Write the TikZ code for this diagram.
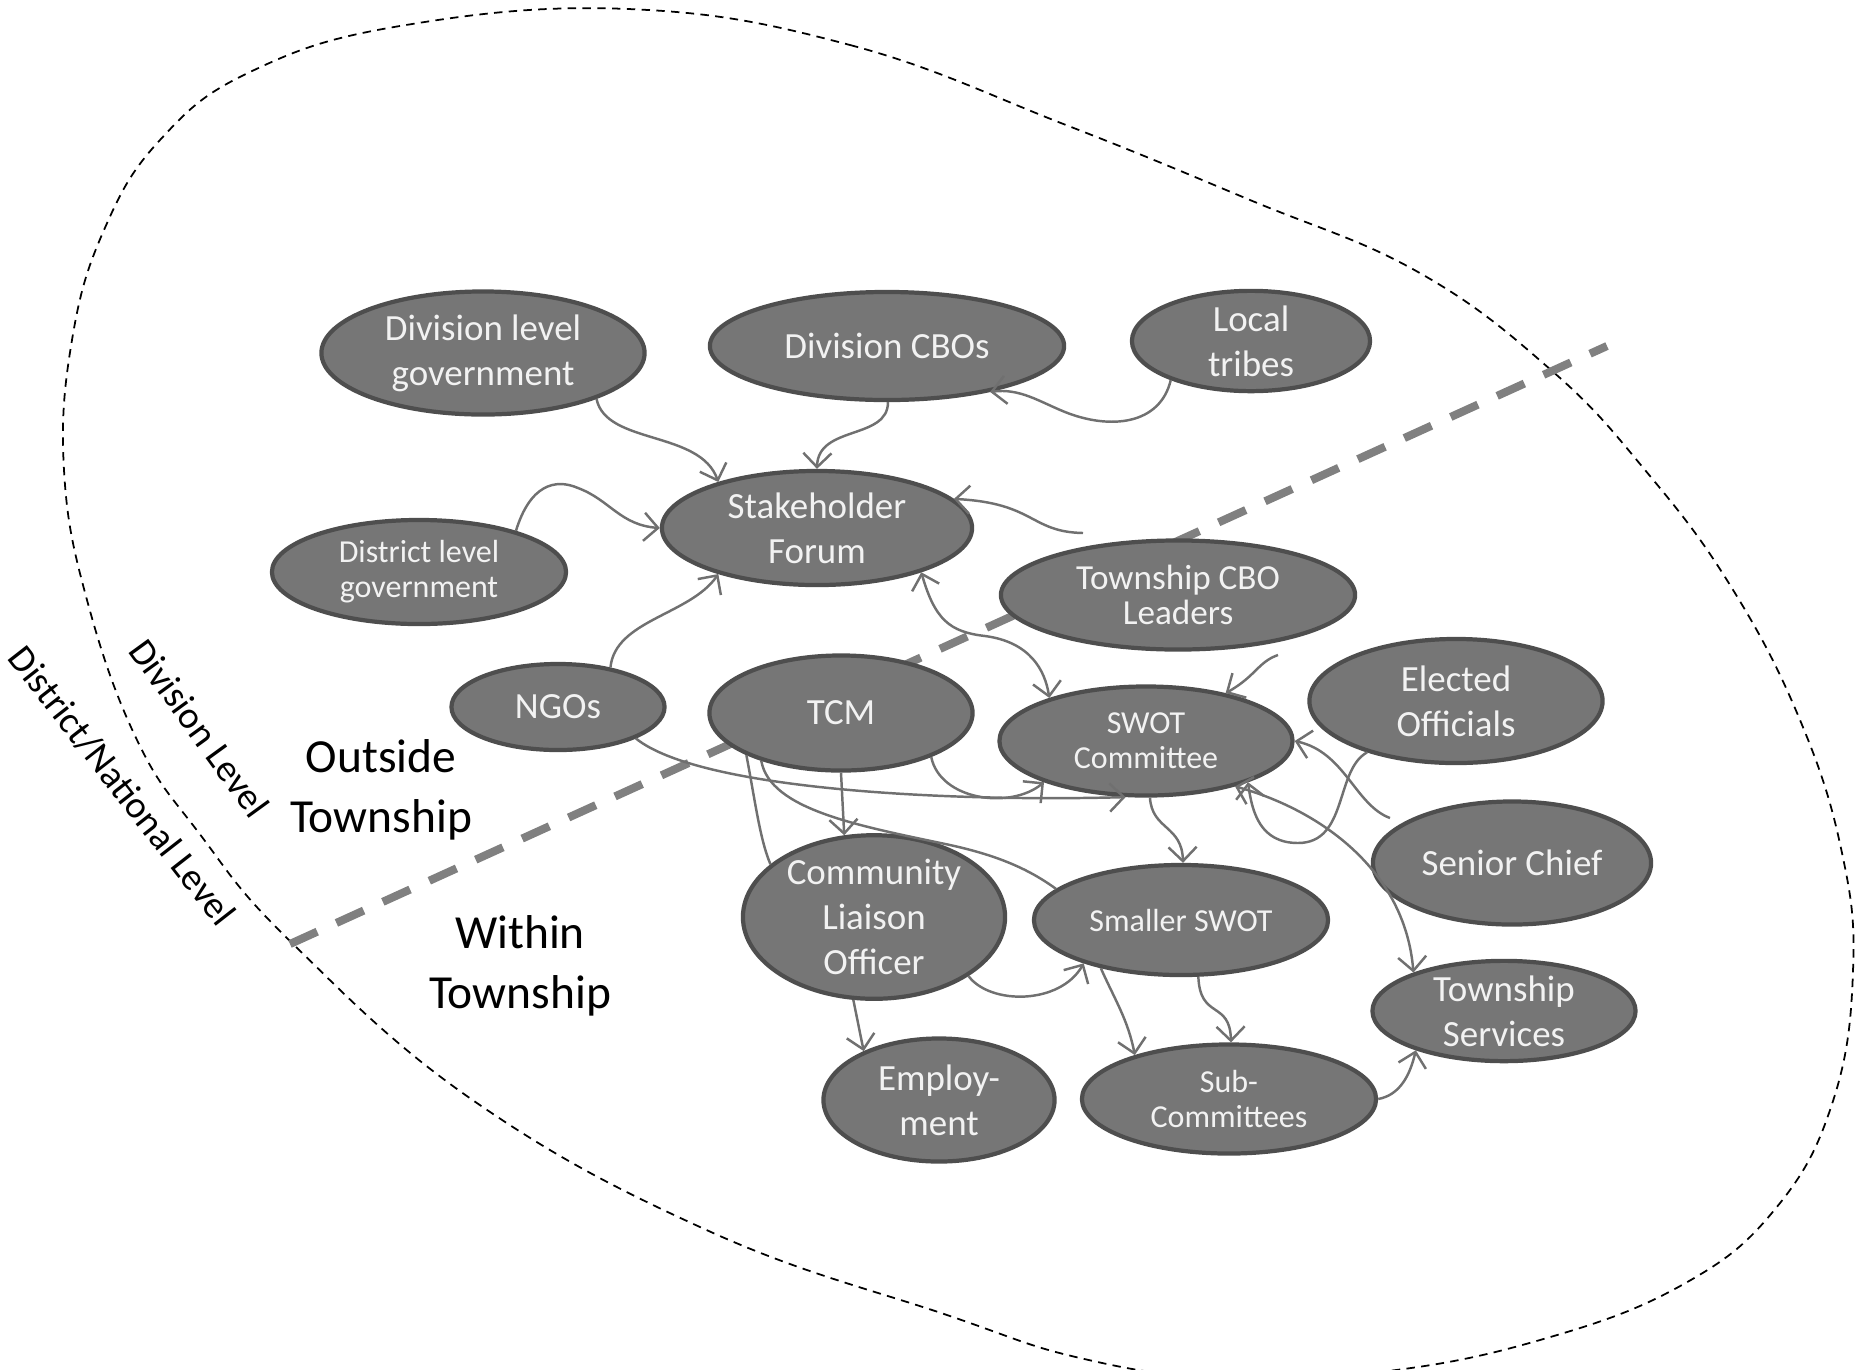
\documentclass[tikz,border=0pt]{standalone}
\usepackage{fontspec}
\setmainfont{Carlito}
\usetikzlibrary{arrows.meta}
\usetikzlibrary{shapes.geometric}
\usetikzlibrary{positioning}
\definecolor{mgray}{RGB}{118, 118, 118}
\definecolor{mdark}{RGB}{78, 78, 78}
\definecolor{mlink}{RGB}{112, 112, 112}
\definecolor{mcut}{RGB}{128, 128, 128}
\tikzset{blob/.style = {ellipse, draw=mdark, line width=1.2pt, fill=mgray, text=white!95!black,
                        inner sep=0, align=center, font=\fontsize{10.5}{12.8}\selectfont}}
\tikzset{fine/.style = {font=\fontsize{9.1}{10}\selectfont}}
\tikzset{wire/.style = {draw=mlink, line width=0.7pt}}
\tikzset{link/.style = {wire, -{Straight Barb[length=4pt, width=8pt]}}}
\tikzset{both/.style = {wire, {Straight Barb[length=4pt, width=8pt]}-{Straight Barb[length=4pt, width=8pt]}}}
\tikzset{zone/.style = {align=center, font=\fontsize{13.5}{17}\selectfont}}
\tikzset{level/.style = {font=\fontsize{10.8}{13}\selectfont}}

\begin{document}
\begin{tikzpicture}[x=0.01cm, y=-0.01cm]
    \useasboundingbox (0, 0) rectangle (1857, 1369);

    \draw [dash pattern=on 2.4pt off 1.8pt, line width=0.5pt] plot [smooth cycle, tension=0.7] coordinates {(628, 9) (850, 45) (1066, 125) (1250, 200) (1418, 272) (1551, 370) (1645, 470) (1730, 585) (1800, 720) (1842, 853) (1853, 971) (1833, 1101) (1776, 1208) (1682, 1285) (1540, 1340) (1380, 1372) (1220, 1378) (1080, 1358) (947, 1315) (711, 1232) (474, 1101) (290, 941) (199, 833) (137, 740) (87, 600) (64, 470) (72, 340) (104, 230) (160, 140) (250, 72) (400, 26)};

    \coordinate (cutA) at (290, 944);
    \coordinate (cutB) at (1607, 346);
    \draw [mcut, line width=2.3pt, dash pattern=on 8.5pt off 6pt] (cutA) -- (cutB);

    \node [blob, minimum width=3.23cm, minimum height=1.23cm] (divgov) at (483, 353) {Division level\\government};
    \node [blob, minimum width=3.54cm, minimum height=1.08cm] (divcbo) at (887, 346) {Division CBOs};
    \node [blob, minimum width=2.38cm, minimum height=0.97cm] (tribes) at (1251, 341) {Local\\tribes};
    \node [blob, minimum width=3.10cm, minimum height=1.14cm] (forum) at (817, 528) {Stakeholder\\Forum};
    \node [blob, fine, minimum width=2.94cm, minimum height=1.04cm] (distgov) at (419, 572) {District level\\government};
    \node [blob, font=\fontsize{10}{10}\selectfont, minimum width=3.54cm, minimum height=1.09cm] (tcbo) at (1178, 595) {Township CBO\\Leaders};
    \node [blob, minimum width=2.13cm, minimum height=0.86cm] (ngo) at (558, 707) {NGOs};
    \node [blob, minimum width=2.63cm, minimum height=1.15cm] (tcm) at (841, 713) {TCM};
    \node [blob, fine, minimum width=2.93cm, minimum height=1.09cm] (swot) at (1146, 741) {SWOT\\Committee};
    \node [blob, minimum width=2.93cm, minimum height=1.24cm] (elected) at (1456, 701) {Elected\\Officials};
    \node [blob, minimum width=2.78cm, minimum height=1.23cm] (chief) at (1512, 863) {Senior Chief};
    \node [blob, minimum width=2.62cm, minimum height=1.50cm] (clo) at (874, 917) {Community\\Liaison\\Officer};
    \node [blob, fine, minimum width=2.94cm, minimum height=1.10cm] (small) at (1181, 920) {Smaller SWOT};
    \node [blob, minimum width=2.63cm, minimum height=0.89cm] (services) at (1504, 1011) {Township\\Services};
    \node [blob, minimum width=2.31cm, minimum height=1.23cm] (employ) at (939, 1100) {Employ-\\ment};
    \node [blob, fine, minimum width=2.94cm, minimum height=1.09cm] (subc) at (1229, 1099) {Sub-\\Committees};

    % outside the township
    \draw [link] (divgov.-22) .. controls (606, 445) and (700, 430) .. (forum.155);
    \draw [link] (divcbo.-89) .. controls (888, 440) and (818, 425) .. (forum.90);
    \draw [link] (tribes.206) .. controls (1160, 425) and (1110, 430) .. (1065, 412) .. controls (1040, 402) and (1020, 388) .. (divcbo.-24);
    \draw [link] (distgov.23) .. controls (530, 485) and (555, 478) .. (578, 488) .. controls (610, 500) and (620, 525) .. (forum.180);
    \draw [link] (ngo.37) .. controls (615, 620) and (690, 615) .. (forum.205);
    \coordinate (loose1) at (1083, 533);
    \draw [link] (loose1) .. controls (1030, 532) and (1035, 503) .. (forum.12);
    \draw [both] (forum.-23) .. controls (935, 620) and (950, 632) .. (985, 636) .. controls (1030, 642) and (1045, 670) .. (swot.156);

    % within the township
    \coordinate (loose2) at (1278, 655);
    \draw [link] (loose2) .. controls (1258, 662) and (1256, 676) .. (swot.31);
    \coordinate (loose3) at (1390, 818);
    \draw [link] (loose3) .. controls (1355, 805) and (1345, 752) .. (swot.0);
    \draw [link] (elected.210) .. controls (1335, 770) and (1348, 843) .. (1298, 843) .. controls (1260, 843) and (1252, 812) .. (swot.-22);
    \draw [both] (swot.-27) .. controls (1320, 810) and (1405, 870) .. (services.157);
    \draw [link] (tcm.-26) .. controls (940, 800) and (1010, 810) .. (swot.202);
    \draw [link] (ngo.-22) .. controls (700, 790) and (950, 802) .. (swot.250);
    \draw [link] (tcm.-90) -- (clo.110);
    \draw [wire] (tcm.204) .. controls (755, 800) and (760, 840) .. (clo.153);
    \draw [wire] (tcm.211) .. controls (770, 810) and (860, 826) .. (950, 845) .. controls (1000, 856) and (1030, 870) .. (small.166);
    \draw [link] (clo.-104) -- (employ.147);
    \draw [link] (clo.-32) .. controls (990, 1005) and (1060, 1005) .. (small.204);
    \draw [link] (swot.-86) .. controls (1152, 830) and (1182, 825) .. (small.88);
    \draw [link] (small.211) .. controls (1115, 1000) and (1128, 1020) .. (subc.155);
    \draw [link] (small.-73) .. controls (1200, 1020) and (1230, 1000) .. (subc.88);
    \draw [link] (subc.0) .. controls (1400, 1095) and (1410, 1075) .. (services.204);

    \node [zone] (outside) at (381, 790) {Outside\\Township};
    \node [zone] (within) at (520, 966) {Within\\Township};
    \node [level, rotate=-54] (divlevel) at (200, 728) {Division Level};
    \node [level, rotate=-52] (natlevel) at (122, 786) {District/National Level};
  \end{tikzpicture}
\end{document}
